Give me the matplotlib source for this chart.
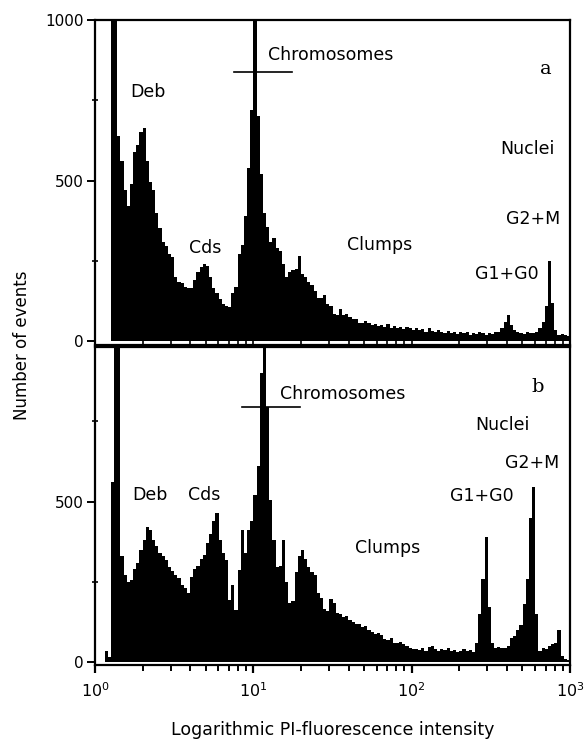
import numpy as np
import matplotlib
matplotlib.use("Agg")
import matplotlib.pyplot as plt
from matplotlib.ticker import FixedLocator, NullFormatter, LogLocator

plt.rcParams['font.family'] = ['DejaVu Sans']

# channel edges: 150 logarithmic channels over 3 decades
log_edges = np.linspace(0, 3, 151)

counts_a = [
    0, 0, 0, 0, 0, 1080, 1080, 640, 560, 470,
    420, 490, 590, 610, 650, 665, 560, 495, 470, 400,
    352, 310, 295, 270, 262, 200, 184, 180, 170, 165,
    165, 190, 215, 230, 240, 235, 200, 165, 150, 130,
    115, 110, 105, 150, 170, 270, 300, 390, 540, 720,
    1080, 700, 520, 400, 355, 310, 320, 290, 280, 240,
    200, 215, 220, 225, 265, 210, 200, 185, 175, 155,
    135, 135, 145, 115, 110, 85, 80, 100, 80, 85,
    75, 68, 70, 58, 55, 62, 58, 50, 52, 48,
    50, 45, 52, 40, 48, 42, 45, 38, 44, 40,
    36, 42, 35, 38, 30, 40, 33, 28, 36, 30,
    26, 32, 25, 30, 22, 28, 24, 30, 20, 26,
    22, 28, 24, 20, 26, 22, 30, 28, 40, 60,
    80, 50, 35, 28, 25, 22, 28, 24, 26, 30,
    40, 60, 110, 250, 120, 35, 20, 22, 18, 15,
]

counts_b = [
    0, 0, 0, 35, 15, 560, 1050, 1050, 330, 270,
    250, 255, 290, 310, 350, 380, 420, 410, 380, 360,
    340, 330, 318, 295, 285, 270, 262, 240, 230, 215,
    265, 290, 300, 320, 335, 370, 400, 440, 465, 380,
    340, 318, 193, 240, 162, 287, 411, 340, 410, 440,
    520, 610, 900, 1050, 794, 505, 380, 296, 300, 380,
    250, 184, 190, 280, 330, 350, 320, 296, 280, 270,
    215, 200, 165, 160, 195, 185, 153, 150, 140, 145,
    130, 125, 118, 120, 108, 112, 100, 95, 88, 92,
    85, 72, 68, 75, 60, 58, 62, 55, 50, 45,
    40, 42, 38, 45, 35, 48, 50, 40, 36, 42,
    38, 44, 34, 38, 32, 36, 40, 34, 38, 30,
    60, 150, 260, 390, 170, 60, 45, 48, 45, 45,
    50, 75, 80, 100, 115, 180, 260, 450, 545, 150,
    35, 45, 40, 50, 55, 60, 100, 20, 10, 5,
]

y_ticks_a = [0, 500, 1000]
y_ticks_b = [0, 500]
y_minor = [250, 750]
x_ticks = [1, 10, 100, 1000]
x_ticklabels = [r'$10^0$', r'$10^1$', r'$10^2$', r'$10^3$']

edges = 10 ** log_edges

fig = plt.figure(figsize=(5.84, 7.45), dpi=100)
ax_a = fig.add_axes([0.1627, 0.5369, 0.8134, 0.4363])
ax_b = fig.add_axes([0.1627, 0.1074, 0.8134, 0.4268])

ylims = {ax_a: (-12, 1000), ax_b: (-9, 981)}

for ax, counts in ((ax_a, counts_a), (ax_b, counts_b)):
    lo, hi = ylims[ax]
    ax.stairs(counts, edges, fill=True, color='black', baseline=0)
    ax.set_xscale('log')
    ax.set_xlim(1, 1000)
    ax.set_ylim(lo, hi)
    for s in ax.spines.values():
        s.set_linewidth(1.6)
        s.set_color('black')
    ax.yaxis.set_minor_locator(FixedLocator(y_minor))
    ax.tick_params(axis='y', which='major', direction='out', length=6, width=1.4,
                   labelsize=11, pad=2)
    ax.tick_params(axis='y', which='minor', direction='inout', length=5, width=1.2)
    ax.xaxis.set_major_locator(FixedLocator(x_ticks))
    ax.xaxis.set_minor_locator(LogLocator(base=10, subs=np.arange(2, 10)))
    ax.xaxis.set_minor_formatter(NullFormatter())

ax_a.set_yticks(y_ticks_a)
ax_b.set_yticks(y_ticks_b)

ax_a.tick_params(axis='x', which='both', direction='in', length=3, width=1.2,
                 labelbottom=False)
ax_b.tick_params(axis='x', which='major', direction='out', length=6, width=1.6,
                 labelsize=11.5, pad=6)
ax_b.tick_params(axis='x', which='minor', direction='out', length=4, width=1.4)
ax_b.set_xticks(x_ticks)
ax_b.set_xticklabels(x_ticklabels)

fs = 12.5
# panel a annotations
ax_a.text(2.16, 776, 'Deb', ha='center', va='center', fontsize=fs)
ax_a.text(4.95, 290, 'Cds', ha='center', va='center', fontsize=fs)
ax_a.text(12.3, 891, 'Chromosomes', ha='left', va='center', fontsize=fs)
ax_a.plot([7.55, 17.6], [838, 838], color='black', lw=1.2)
ax_a.text(705, 847, 'a', ha='center', va='center', fontsize=14, family='DejaVu Serif')
ax_a.text(535, 598, 'Nuclei', ha='center', va='center', fontsize=fs)
ax_a.text(584, 380, 'G2+M', ha='center', va='center', fontsize=fs)
ax_a.text(63.1, 299, 'Clumps', ha='center', va='center', fontsize=fs)
ax_a.text(400, 209, 'G1+G0', ha='center', va='center', fontsize=fs)

# panel b annotations
ax_b.text(2.22, 520, 'Deb', ha='center', va='center', fontsize=fs)
ax_b.text(4.88, 520, 'Cds', ha='center', va='center', fontsize=fs)
ax_b.text(14.7, 835, 'Chromosomes', ha='left', va='center', fontsize=fs)
ax_b.plot([8.5, 19.7], [794, 794], color='black', lw=1.2)
ax_b.text(628, 857, 'b', ha='center', va='center', fontsize=14, family='DejaVu Serif')
ax_b.text(372, 738, 'Nuclei', ha='center', va='center', fontsize=fs)
ax_b.text(575, 620, 'G2+M', ha='center', va='center', fontsize=fs)
ax_b.text(70.9, 355, 'Clumps', ha='center', va='center', fontsize=fs)
ax_b.text(278, 517, 'G1+G0', ha='center', va='center', fontsize=fs)

fig.text(0.570, 0.020, 'Logarithmic PI-fluorescence intensity',
         ha='center', va='center', fontsize=12.5)
fig.text(0.038, 0.537, 'Number of events', rotation=90, ha='center', va='center',
         fontsize=12)

fig.savefig('out.png', dpi=100)
